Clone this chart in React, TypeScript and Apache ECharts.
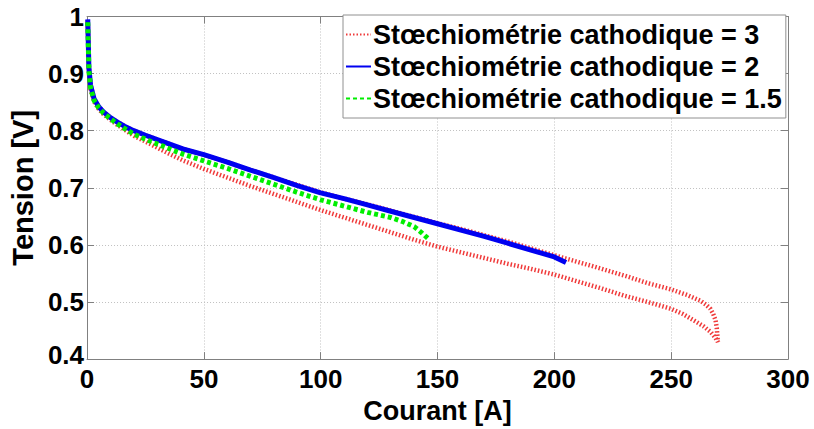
import React, { useEffect, useRef } from "react";
import * as echarts from "echarts";

const xTicks = { min: 0, max: 300, interval: 50 };
const yTicks = { min: 0.4, max: 1, interval: 0.1 };

const seriesNames = [
  "Stœchiométrie cathodique = 3",
  "Stœchiométrie cathodique = 2",
  "Stœchiométrie cathodique = 1.5",
];

// Stoichiometry 3: outgoing (lower) branch then returning (upper) branch
const redOutX = [0.3, 0.5, 0.8, 1.5, 3, 5, 7, 10, 13, 16, 20, 25, 33, 41, 50, 60, 70, 80, 90, 100, 110, 120, 130, 140, 150, 160, 170, 180, 190, 200, 210, 220, 230, 240, 250, 255, 260, 264, 267, 269, 270];
const redOutY = [0.99, 0.955, 0.905, 0.873, 0.851, 0.838, 0.829, 0.819, 0.81, 0.802, 0.791, 0.781, 0.764, 0.748, 0.733, 0.718, 0.703, 0.689, 0.675, 0.661, 0.648, 0.635, 0.622, 0.609, 0.597, 0.587, 0.577, 0.567, 0.558, 0.548, 0.536, 0.524, 0.511, 0.5, 0.488, 0.479, 0.467, 0.457, 0.447, 0.437, 0.43];
const redBackX = [269.8, 269.5, 269, 268, 266.8, 265, 262.6, 257, 250, 240, 231, 217, 205, 200, 190, 180, 170, 160, 150, 140, 130, 120, 110, 100, 90, 80, 70, 60, 50, 41, 33, 25, 20, 16, 13, 10, 7, 5, 3, 1.5, 0.8, 0.5, 0.3];
const redBackY = [0.44, 0.455, 0.468, 0.479, 0.488, 0.495, 0.502, 0.512, 0.522, 0.533, 0.545, 0.562, 0.576, 0.582, 0.594, 0.606, 0.617, 0.628, 0.638, 0.649, 0.66, 0.671, 0.681, 0.692, 0.705, 0.718, 0.731, 0.745, 0.758, 0.768, 0.78, 0.792, 0.8, 0.808, 0.815, 0.823, 0.833, 0.842, 0.856, 0.88, 0.91, 0.96, 0.995];

// Stoichiometry 2
const blueX = [0.3, 0.5, 0.8, 1.5, 3, 5, 7, 10, 13, 16, 20, 25, 33, 41, 50, 60, 70, 80, 90, 100, 110, 120, 130, 140, 150, 160, 170, 180, 190, 200, 205];
const blueY = [0.995, 0.96, 0.91, 0.88, 0.856, 0.842, 0.833, 0.823, 0.815, 0.808, 0.8, 0.792, 0.78, 0.768, 0.758, 0.745, 0.731, 0.718, 0.704, 0.691, 0.681, 0.67, 0.659, 0.648, 0.637, 0.626, 0.615, 0.603, 0.591, 0.579, 0.569];

// Stoichiometry 1.5
const greenX = [0.3, 0.5, 0.8, 1.5, 3, 5, 7, 10, 13, 16, 20, 25, 33, 41, 50, 60, 70, 80, 90, 100, 110, 120, 130, 135, 140, 143, 146];
const greenY = [0.99, 0.955, 0.905, 0.875, 0.853, 0.84, 0.831, 0.821, 0.812, 0.804, 0.794, 0.785, 0.772, 0.759, 0.747, 0.734, 0.72, 0.706, 0.692, 0.679, 0.668, 0.657, 0.648, 0.641, 0.632, 0.622, 0.611];

const zip = (xs: number[], ys: number[]) => xs.map((x, i) => [x, ys[i]]);

const FONT = "'Liberation Sans', Arial, sans-serif";
const AXIS_COLOR = "#808080";

export default function App() {
  const ref = useRef<HTMLDivElement>(null);

  useEffect(() => {
    if (!ref.current) return;
    const chart = echarts.init(ref.current, null, { renderer: "svg" });

    const baseX = {
      type: "value" as const,
      min: xTicks.min,
      max: xTicks.max,
      interval: xTicks.interval,
    };
    const baseY = {
      type: "value" as const,
      min: yTicks.min,
      max: yTicks.max,
      interval: yTicks.interval,
    };

    const labelFont = { fontSize: 26, fontWeight: "bold" as const, color: "#000", fontFamily: FONT };

    chart.setOption({
      animation: false,
      backgroundColor: "#ffffff",
      textStyle: { fontFamily: FONT },
      grid: { left: 83, right: 26, top: 16.5, bottom: 61, containLabel: false },
      xAxis: [
        {
          ...baseX,
          position: "bottom",
          name: "Courant [A]",
          nameLocation: "middle",
          nameGap: 31,
          nameTextStyle: { fontSize: 27, fontWeight: "bold", color: "#000", fontFamily: FONT },
          axisLine: { show: true, onZero: false, lineStyle: { color: AXIS_COLOR, width: 1 } },
          axisTick: { show: true, inside: true, length: 7, lineStyle: { color: AXIS_COLOR } },
          axisLabel: { margin: 7, ...labelFont },
          splitLine: { show: true, lineStyle: { color: "#c0c0c0", type: [1, 2], width: 1 } },
        },
        {
          ...baseX,
          position: "top",
          axisLine: { show: true, onZero: false, lineStyle: { color: AXIS_COLOR, width: 1 } },
          axisTick: { show: true, inside: true, length: 7, lineStyle: { color: AXIS_COLOR } },
          axisLabel: { show: false },
          splitLine: { show: false },
        },
      ],
      yAxis: [
        {
          ...baseY,
          position: "left",
          name: "Tension [V]",
          nameLocation: "middle",
          nameGap: 46,
          nameTextStyle: { fontSize: 29, fontWeight: "bold", color: "#000", fontFamily: FONT },
          axisLine: { show: true, onZero: false, lineStyle: { color: AXIS_COLOR, width: 1 } },
          axisTick: { show: true, inside: true, length: 7, lineStyle: { color: AXIS_COLOR } },
          axisLabel: {
            margin: 3,
            ...labelFont,
            formatter: (v: number) => {
              const s = String(+v.toFixed(1));
              return v <= yTicks.min + 1e-9 ? `{low|${s}}` : s;
            },
            rich: { low: { ...labelFont, padding: [0, 0, 8, 0] } },
          },
          splitLine: { show: true, lineStyle: { color: "#c0c0c0", type: [1, 2], width: 1 } },
        },
        {
          ...baseY,
          position: "right",
          axisLine: { show: true, onZero: false, lineStyle: { color: AXIS_COLOR, width: 1 } },
          axisTick: { show: true, inside: true, length: 7, lineStyle: { color: AXIS_COLOR } },
          axisLabel: { show: false },
          splitLine: { show: false },
        },
      ],
      legend: {
        orient: "vertical",
        left: 343,
        top: 15,
        padding: [6, 4, 6, 2],
        itemGap: 5,
        itemWidth: 25,
        itemHeight: 14,
        itemStyle: { opacity: 0 },
        backgroundColor: "#ffffff",
        borderColor: "#909090",
        borderWidth: 1,
        textStyle: { fontSize: 27, fontWeight: "bold", color: "#000", fontFamily: FONT, padding: [0, 0, 0, -3] },
        data: seriesNames,
      },
      series: [
        {
          name: seriesNames[0],
          type: "line",
          xAxisIndex: 0,
          yAxisIndex: 0,
          symbol: "none",
          showSymbol: false,
          lineStyle: { color: "#f03a3a", width: 4.5, type: [1.5, 2], cap: "butt" },
          itemStyle: { color: "#f03a3a" },
          data: zip(redOutX, redOutY).concat(zip(redBackX, redBackY)),
        },
        {
          name: seriesNames[1],
          type: "line",
          xAxisIndex: 0,
          yAxisIndex: 0,
          symbol: "none",
          showSymbol: false,
          lineStyle: { color: "#0000f0", width: 5, type: "solid" },
          itemStyle: { color: "#0000f0" },
          data: zip(blueX, blueY),
        },
        {
          name: seriesNames[2],
          type: "line",
          xAxisIndex: 0,
          yAxisIndex: 0,
          symbol: "none",
          showSymbol: false,
          lineStyle: { color: "#00ee00", width: 5, type: [4, 3], cap: "butt" },
          itemStyle: { color: "#00ee00" },
          data: zip(greenX, greenY),
        },
      ],
    });

    return () => chart.dispose();
  }, []);

  return (
    <div
      ref={ref}
      style={{ position: "fixed", left: 0, top: 0, width: 814, height: 429, background: "#fff" }}
    />
  );
}
